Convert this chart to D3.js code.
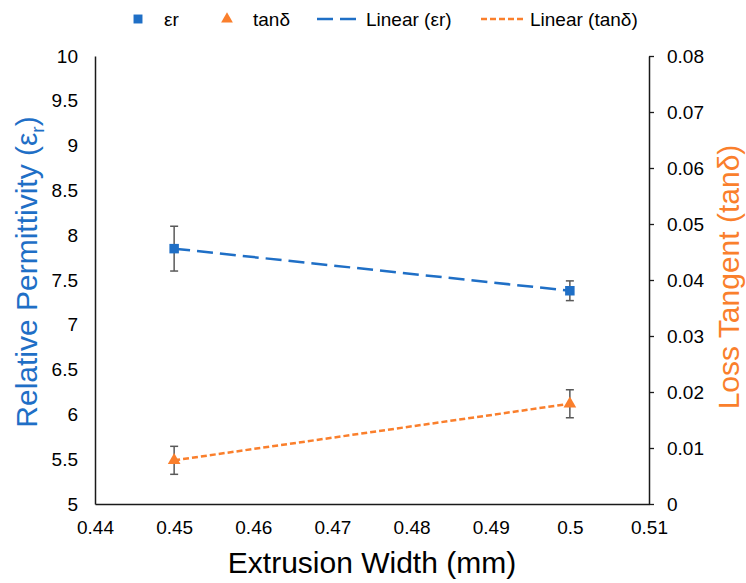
<!DOCTYPE html>
<html>
<head>
<meta charset="utf-8">
<script src="https://cdn.jsdelivr.net/npm/d3@7"></script>
<style>
  body { margin: 0; background: #fff; }
  text { font-family: "Liberation Sans", Arial, sans-serif; fill: #000; }
</style>
</head>
<body>
<div id="chart"></div>
<script>
// Datos
var anchos = [0.45, 0.5];
var permitividad = [7.85, 7.38];
var errPermitividad = [0.25, 0.11];
var tangente = [0.0078, 0.0179];
var errTangente = [0.0025, 0.0025];

// Etiquetas de los ejes
var ticksX = [0.44, 0.45, 0.46, 0.47, 0.48, 0.49, 0.5, 0.51];
var ticksIzq = [5, 5.5, 6, 6.5, 7, 7.5, 8, 8.5, 9, 9.5, 10];
var ticksDer = [0, 0.01, 0.02, 0.03, 0.04, 0.05, 0.06, 0.07, 0.08];

var azul = "#1f6fc6";
var naranja = "#fa7f2c";

var width = 746;
var height = 583;
var margin = { top: 56, right: 97, bottom: 79, left: 95 };
var plotW = width - margin.left - margin.right;
var plotH = height - margin.top - margin.bottom;

var svg = d3.select("#chart")
            .append("svg")
            .attr("width", width)
            .attr("height", height);

var g = svg.append("g")
           .attr("transform", "translate(" + margin.left + "," + margin.top + ")");

// Escalas
var xScale = d3.scaleLinear().domain([0.44, 0.51]).range([0, plotW]);
var yIzq = d3.scaleLinear().domain([5, 10]).range([plotH, 0]);
var yDer = d3.scaleLinear().domain([0, 0.08]).range([plotH, 0]);

// Eje x (sin marcas)
var ejeX = g.append("g")
    .attr("transform", "translate(0," + plotH + ")")
    .call(d3.axisBottom(xScale).tickValues(ticksX).tickFormat(function(d) { return String(d); })
          .tickSize(0).tickSizeOuter(0).tickPadding(17));

// Eje izquierdo (sin marcas)
var ejeIzq = g.append("g")
    .call(d3.axisLeft(yIzq).tickValues(ticksIzq).tickFormat(function(d) { return String(d); })
          .tickSize(0).tickSizeOuter(0).tickPadding(17));

// Eje derecho con marcas hacia fuera
var ejeDer = g.append("g")
    .attr("transform", "translate(" + plotW + ",0)")
    .call(d3.axisRight(yDer).tickValues(ticksDer).tickFormat(function(d) { return String(d); })
          .tickSize(5).tickSizeOuter(0).tickPadding(13));

[ejeX, ejeIzq, ejeDer].forEach(function(eje) {
    eje.selectAll(".domain").attr("stroke", "#1a1a1a").attr("stroke-width", 1.5);
    eje.selectAll(".tick line").attr("stroke", "#1a1a1a").attr("stroke-width", 1.3);
    eje.selectAll(".tick text")
       .style("font-family", "'Liberation Sans', Arial, sans-serif")
       .style("font-size", "19px")
       .attr("fill", "#000");
});

// Lineas de tendencia
var lineaEr = d3.line()
    .x(function(d, i) { return xScale(anchos[i]); })
    .y(function(d) { return yIzq(d); });
var lineaTan = d3.line()
    .x(function(d, i) { return xScale(anchos[i]); })
    .y(function(d) { return yDer(d); });

g.append("path")
    .datum(permitividad)
    .attr("d", lineaEr)
    .attr("fill", "none")
    .attr("stroke", azul)
    .attr("stroke-width", 2.5)
    .attr("stroke-dasharray", "16,7");

g.append("path")
    .datum(tangente)
    .attr("d", lineaTan)
    .attr("fill", "none")
    .attr("stroke", naranja)
    .attr("stroke-width", 2.5)
    .attr("stroke-dasharray", "6,3");

// Barras de error
function dibujarError(valores, errores, escala) {
    valores.forEach(function(v, i) {
        var x = xScale(anchos[i]);
        var y1 = escala(v + errores[i]);
        var y2 = escala(v - errores[i]);
        g.append("line").attr("x1", x).attr("x2", x).attr("y1", y1).attr("y2", y2)
            .attr("stroke", "#595959").attr("stroke-width", 1.5);
        [y1, y2].forEach(function(yy) {
            g.append("line").attr("x1", x - 4).attr("x2", x + 4).attr("y1", yy).attr("y2", yy)
                .attr("stroke", "#595959").attr("stroke-width", 1.5);
        });
    });
}
dibujarError(permitividad, errPermitividad, yIzq);
dibujarError(tangente, errTangente, yDer);

// Marcadores
g.selectAll(".er")
    .data(permitividad)
    .enter().append("path")
    .attr("class", "er")
    .attr("transform", function(d, i) { return "translate(" + xScale(anchos[i]) + "," + yIzq(d) + ")"; })
    .attr("d", d3.symbol().type(d3.symbolSquare).size(90))
    .attr("fill", azul);

g.selectAll(".tan")
    .data(tangente)
    .enter().append("path")
    .attr("class", "tan")
    .attr("transform", function(d, i) { return "translate(" + xScale(anchos[i]) + "," + yDer(d) + ")"; })
    .attr("d", d3.symbol().type(d3.symbolTriangle).size(70))
    .attr("fill", naranja);

// Titulos de los ejes
svg.append("text")
    .attr("x", margin.left + plotW / 2)
    .attr("y", 573)
    .attr("text-anchor", "middle")
    .style("font-size", "30px")
    .text("Extrusion Width (mm)");

var tituloIzq = svg.append("text")
    .attr("transform", "translate(37," + (margin.top + plotH / 2 - 8) + ") rotate(-90)")
    .attr("text-anchor", "middle")
    .style("font-size", "30px")
    .style("fill", azul);
tituloIzq.append("tspan").text("Relative Permittivity (ε");
tituloIzq.append("tspan").attr("dy", 7).style("font-size", "19px").text("r");
tituloIzq.append("tspan").attr("dy", -7).text(")");

svg.append("text")
    .attr("transform", "translate(739," + (margin.top + plotH / 2 - 3) + ") rotate(-90)")
    .attr("text-anchor", "middle")
    .style("font-size", "30px")
    .style("fill", naranja)
    .text("Loss Tangent (tanδ)");

// Leyenda
var leyenda = svg.append("g");
var ly = 19;

leyenda.append("path")
    .attr("transform", "translate(138," + ly + ")")
    .attr("d", d3.symbol().type(d3.symbolSquare).size(80))
    .attr("fill", azul);
leyenda.append("text").attr("x", 164).attr("y", ly + 7).style("font-size", "19px").text("εr");

leyenda.append("path")
    .attr("transform", "translate(227," + ly + ")")
    .attr("d", d3.symbol().type(d3.symbolTriangle).size(60))
    .attr("fill", naranja);
leyenda.append("text").attr("x", 253).attr("y", ly + 7).style("font-size", "19px").text("tanδ");

leyenda.append("line")
    .attr("x1", 317).attr("x2", 362).attr("y1", ly).attr("y2", ly)
    .attr("stroke", azul).attr("stroke-width", 2.5).attr("stroke-dasharray", "16,7");
leyenda.append("text").attr("x", 366).attr("y", ly + 7).style("font-size", "19px").text("Linear (εr)");

leyenda.append("line")
    .attr("x1", 481).attr("x2", 526).attr("y1", ly).attr("y2", ly)
    .attr("stroke", naranja).attr("stroke-width", 2.5).attr("stroke-dasharray", "6,3");
leyenda.append("text").attr("x", 530).attr("y", ly + 7).style("font-size", "19px").text("Linear (tanδ)");
</script>
</body>
</html>
